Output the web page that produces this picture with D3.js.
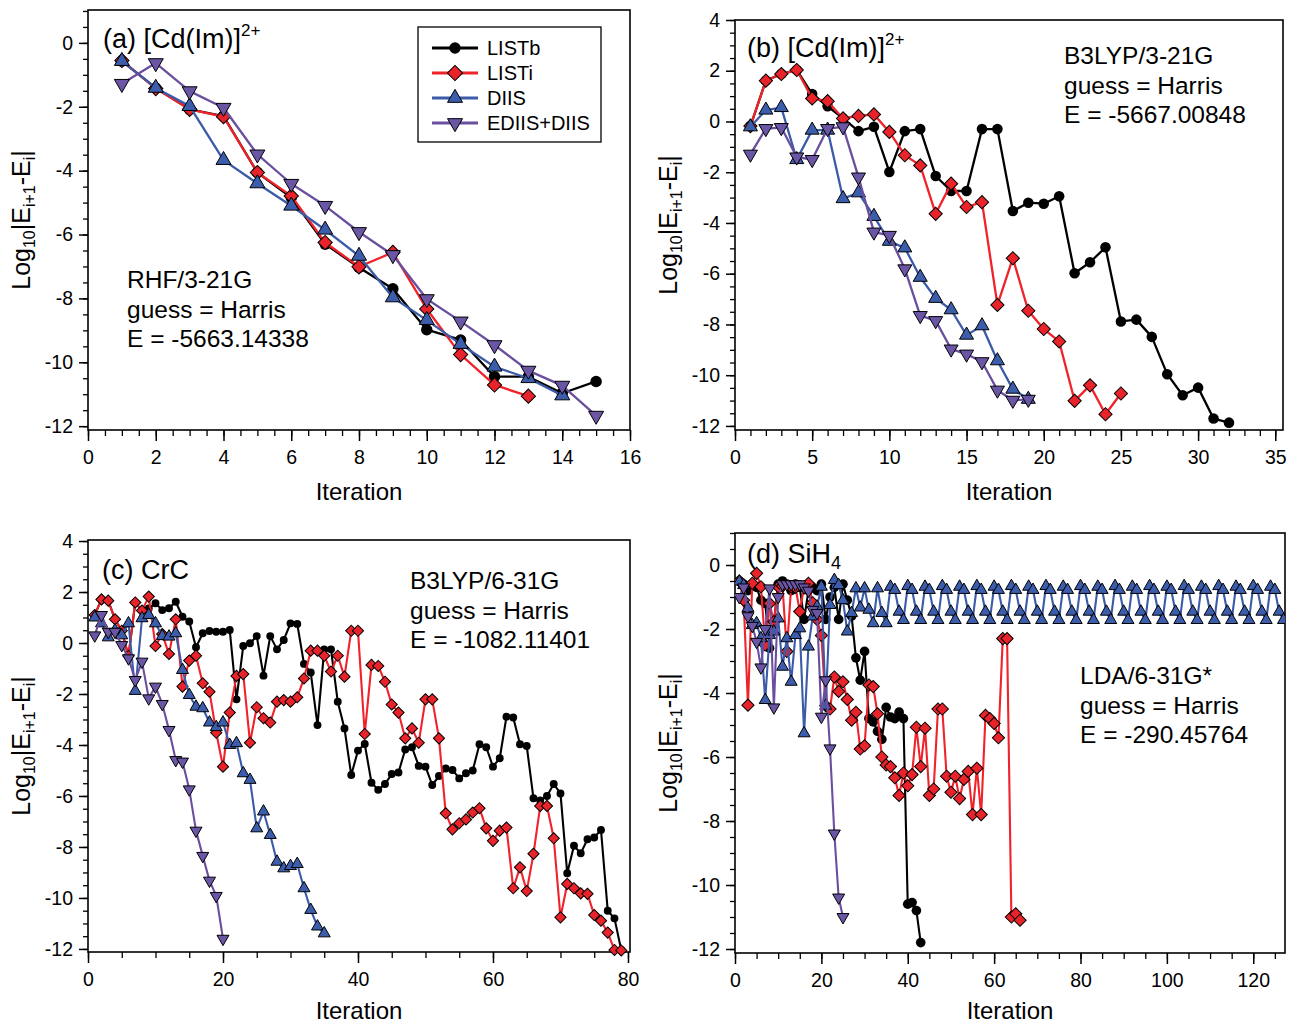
<!DOCTYPE html>
<html><head><meta charset="utf-8">
<script src="https://cdn.jsdelivr.net/npm/d3@7"></script>
<style>
body{margin:0;background:#fff}
svg{display:block}
text{font-family:"Liberation Sans",Arial,Helvetica,sans-serif;fill:#000}
</style>
</head><body>
<svg id="chart" width="1289" height="1025"></svg>
<script>
// ---------------- DATA (iteration = index + 1) ----------------
const seriesNames = ["LISTb", "LISTi", "DIIS", "EDIIS+DIIS"];

// (a) [Cd(Im)]2+  RHF/3-21G
const a_LISTb = [-0.57,-1.41,-2.08,-2.29,-4.06,-4.84,-6.30,-7.03,-7.70,-8.98,-9.30,-10.45,-10.45,-10.97,-10.60];
const a_LISTi = [-0.55,-1.43,-2.08,-2.31,-4.06,-4.79,-6.25,-7.01,-6.56,-8.33,-9.76,-10.71,-11.06];
const a_DIIS  = [-0.57,-1.41,-1.98,-3.67,-4.40,-5.10,-5.85,-6.67,-7.97,-8.68,-9.43,-10.14,-10.50,-11.04];
const a_EDIIS = [-1.28,-0.63,-1.51,-2.03,-3.49,-4.41,-5.10,-5.92,-6.64,-8.02,-8.72,-9.46,-10.26,-10.73,-11.67];

// (b) [Cd(Im)]2+  B3LYP/3-21G
const b_LISTb = [-0.18,1.61,1.87,2.03,1.08,0.60,0.12,-0.38,-0.21,-1.99,-0.38,-0.30,-2.15,-2.74,-2.74,-0.30,-0.30,-3.53,-3.20,-3.24,-2.95,-5.98,-5.55,-4.96,-7.88,-7.81,-8.49,-9.96,-10.79,-10.49,-11.71,-11.87];
const b_LISTi = [-0.18,1.61,1.87,2.03,0.91,0.80,0.12,0.22,0.28,-0.41,-1.33,-1.73,-3.64,-2.45,-3.37,-3.18,-7.23,-5.39,-7.46,-8.18,-8.67,-11.01,-10.40,-11.54,-10.72];
const b_DIIS  = [-0.21,0.45,0.55,-1.50,-0.34,-0.34,-3.04,-2.81,-3.74,-4.72,-4.98,-6.14,-6.97,-7.42,-8.42,-8.05,-9.43,-10.55,-10.95];
const b_EDIIS = [-1.29,-0.28,-0.24,-1.40,-1.50,-0.28,-0.21,-2.19,-4.36,-4.49,-5.81,-7.65,-7.85,-8.97,-9.17,-9.47,-10.59,-10.99,-10.95];

// (c) CrC  B3LYP/6-31G
const c_LISTb = [1.10,1.71,1.66,0.93,0.48,-0.51,1.59,1.27,1.35,1.56,
  1.29,1.36,1.62,1.03,0.84,-0.17,0.38,0.47,0.44,0.44,
  0.51,-2.21,-0.12,-0.01,0.27,-1.28,0.27,-0.25,0.12,0.77,
  0.75,-0.82,-1.16,-3.22,-0.25,-0.25,-2.30,-3.35,-5.18,-4.22,
  -3.96,-5.48,-5.76,-5.53,-5.14,-5.08,-4.18,-4.09,-4.82,-4.85,
  -5.57,-5.22,-4.92,-4.98,-5.31,-5.11,-5.00,-3.97,-4.09,-4.85,
  -4.52,-2.89,-2.92,-3.97,-4.04,-6.09,-6.18,-6.00,-5.53,-5.90,
  -9.03,-7.95,-8.25,-7.70,-7.63,-7.33,-10.50,-10.80,-12.04];
const c_LISTi = [1.10,1.71,1.66,0.93,0.48,-0.51,1.59,1.27,1.82,-0.12,
  0.35,-0.43,0.93,-1.71,-0.69,-0.50,-1.58,-1.91,-3.52,-4.85,
  -2.73,-1.29,-1.22,-3.91,-2.52,-2.95,-3.12,-2.30,-2.24,-2.30,
  -2.13,-1.39,-0.30,-0.30,-0.50,-1.12,-0.50,-1.32,0.48,0.48,
  -3.57,-0.86,-0.90,-1.52,-2.41,-2.73,-3.74,-3.35,-3.91,-2.21,
  -2.21,-3.74,-6.68,-7.31,-7.07,-6.92,-6.65,-6.48,-7.27,-7.76,
  -7.36,-7.24,-9.62,-8.80,-9.73,-8.27,-6.39,-6.39,-7.66,-10.76,
  -9.45,-9.62,-9.82,-9.84,-10.67,-10.89,-11.36,-12.04,-12.06];
const c_DIIS  = [1.00,0.77,0.22,0.50,0.30,0.77,-1.88,0.97,1.10,0.77,
  0.27,0.25,0.38,-1.06,-2.04,-2.50,-2.56,-3.12,-3.30,-3.12,
  -4.00,-3.93,-5.11,-5.37,-7.27,-6.61,-7.53,-8.58,-8.84,-8.75,
  -8.67,-9.62,-10.47,-11.12,-11.39];
const c_EDIIS = [0.30,1.10,0.44,0.44,-0.08,-0.60,-1.45,-0.73,-2.17,-1.71,
  -2.39,-3.41,-4.59,-4.65,-5.74,-7.36,-8.35,-9.32,-9.92,-11.60];

// (d) SiH4  LDA/6-31G*
const d_LISTb = [-0.5,-0.6,-0.8,-0.6,-0.7,-1.1,-1.2,-2.6,-1.8,-0.6,
  -0.5,-0.6,-0.8,-0.6,-0.7,-1.7,-0.8,-0.7,-0.8,-0.6,
  -1.7,-1.0,-0.7,-1.7,-0.6,-1.1,-1.6,-2.9,-3.6,-2.7,
  -4.8,-4.9,-5.2,-5.45,-4.45,-4.75,-4.8,-4.6,-4.8,-10.6,
  -10.55,-10.8,-11.8];
const d_LISTi = [-0.5,-1.1,-4.38,-0.57,-0.26,-0.68,-2.5,-1.2,-1.77,-0.68,
  -0.66,-2.7,-0.68,-0.7,-1.45,-0.68,-0.57,-1.18,-1.7,-2.2,
  -4.4,-4.5,-3.5,-3.95,-3.65,-4.2,-4.85,-4.6,-5.75,-5.65,
  -3.75,-3.8,-4.65,-6.0,-6.25,-6.3,-6.65,-7.2,-6.5,-6.9,
  -6.55,-5.07,-6.3,-5.1,-7.2,-7.0,-4.5,-4.5,-6.6,-7.1,
  -6.6,-7.3,-6.7,-6.45,-7.8,-6.35,-7.8,-4.7,-4.8,-4.95,
  -5.4,-2.3,-2.3,-11.0,-10.9,-11.1];
const d_DIIS  = [-0.52,-0.63,-1.35,-1.88,-1.82,-2.29,-4.22,-2.19,-2.08,-1.67,
  -3.18,-2.29,-3.65,-2.19,-1.98,-5.26,-2.55,-1.61,-1.30,-0.68,
  -4.40,-1.25,-0.47,-0.63,-1.10,-2.08,-1.50,-0.73,-1.33,-0.73,
  -1.40,-1.82,-0.73,-1.50,-1.82,-0.68,-0.78,-1.46,-1.72,-0.66,
  -0.78,-1.46,-1.72,-0.68,-0.78,-1.46,-1.72,-0.66,-0.78,-1.46,
  -1.72,-0.68,-0.78,-1.46,-1.72,-0.66,-0.78,-1.46,-1.72,-0.68,
  -0.78,-1.46,-1.72,-0.66,-0.78,-1.46,-1.72,-0.68,-0.78,-1.46,
  -1.72,-0.66,-0.78,-1.46,-1.72,-0.68,-0.78,-1.46,-1.72,-0.66,
  -0.78,-1.46,-1.72,-0.68,-0.78,-1.46,-1.72,-0.66,-0.78,-1.46,
  -1.72,-0.68,-0.78,-1.46,-1.72,-0.66,-0.78,-1.46,-1.72,-0.68,
  -0.78,-1.46,-1.72,-0.66,-0.78,-1.46,-1.72,-0.68,-0.78,-1.46,
  -1.72,-0.66,-0.78,-1.46,-1.72,-0.68,-0.78,-1.46,-1.72,-0.66,
  -0.78,-1.46,-1.72,-0.68,-0.78,-1.46,-1.72];
const d_EDIIS = [-1.0,-0.7,-1.6,-1.9,-2.4,-3.2,-2.0,-0.73,-4.45,-1.0,
  -0.6,-0.6,-0.6,-0.6,-0.6,-0.7,-0.8,-1.4,-1.5,-4.74,
  -3.6,-5.73,-8.39,-10.39,-11.0];

// annotation texts
const a_notes = ["RHF/3-21G", "guess = Harris", "E = -5663.14338"];
const b_notes = ["B3LYP/3-21G", "guess = Harris", "E = -5667.00848"];
const c_notes = ["B3LYP/6-31G", "guess = Harris", "E = -1082.11401"];
const d_notes = ["LDA/6-31G*", "guess = Harris", "E = -290.45764"];

// tick values
const a_xTicks = [0,2,4,6,8,10,12,14,16];
const a_yTicks = [0,-2,-4,-6,-8,-10,-12];
const b_xTicks = [0,5,10,15,20,25,30,35];
const b_yTicks = [4,2,0,-2,-4,-6,-8,-10,-12];
const c_xTicks = [0,20,40,60,80];
const c_yTicks = [4,2,0,-2,-4,-6,-8,-10,-12];
const d_xTicks = [0,20,40,60,80,100,120];
const d_yTicks = [0,-2,-4,-6,-8,-10,-12];

// ---------------- STYLE ----------------
const lineColor = {"LISTb":"#000000","LISTi":"#f0222a","DIIS":"#3b5ba9","EDIIS+DIIS":"#6a4f9e"};
const fillColor = {"LISTb":"#000000","LISTi":"#e8232a","DIIS":"#3c5dab","EDIIS+DIIS":"#6b55a5"};
const shapeOf   = {"LISTb":"circle","LISTi":"diamond","DIIS":"up","EDIIS+DIIS":"down"};

const svg = d3.select("#chart");

function markerPath(kind, s){
  if(kind==="circle") return d3.symbol(d3.symbolCircle, Math.PI*(s*0.44)*(s*0.44))();
  if(kind==="diamond") return d3.symbol(d3.symbolSquare, (s*0.72)*(s*0.72))();
  return d3.symbol(d3.symbolTriangle, s*s*Math.sqrt(3)/4)();
}
function markerRot(kind){
  if(kind==="diamond") return 45;
  if(kind==="down") return 180;
  return 0;
}

function drawPanel(cfg){
  const x = d3.scaleLinear().domain(cfg.xd).range([cfg.l, cfg.r]);
  const y = d3.scaleLinear().domain(cfg.yd).range([cfg.b, cfg.t]);
  const g = svg.append("g");
  const cid = "clip_" + cfg.id;
  svg.append("clipPath").attr("id", cid).append("rect")
    .attr("x", cfg.l).attr("y", cfg.t - 8).attr("width", cfg.r - cfg.l).attr("height", cfg.b - cfg.t + 16);

  const yMinor = d3.range(Math.ceil(cfg.yd[0]/cfg.yMinorStep)*cfg.yMinorStep, cfg.yd[1]+1e-9, cfg.yMinorStep);
  const xMinor = d3.range(0, cfg.xd[1]+1e-9, cfg.xMinorStep);
  g.append("g").attr("transform", `translate(${cfg.l},0)`)
    .call(d3.axisLeft(y).tickValues(yMinor).tickSize(5).tickFormat(""))
    .call(s => s.select(".domain").remove())
    .call(s => s.selectAll("line").attr("stroke-width", 1.3));
  g.append("g").attr("transform", `translate(0,${cfg.b})`)
    .call(d3.axisBottom(x).tickValues(xMinor).tickSize(6).tickFormat(""))
    .call(s => s.select(".domain").remove())
    .call(s => s.selectAll("line").attr("stroke-width", 1.3));
  g.append("g").attr("transform", `translate(${cfg.l},0)`)
    .call(d3.axisLeft(y).tickValues(cfg.yTicks).tickSize(9).tickPadding(6).tickFormat(d => String(d)))
    .call(s => s.select(".domain").remove())
    .call(s => s.selectAll("line").attr("stroke-width", 1.5))
    .call(s => s.selectAll("text").attr("font-size", 19.5).attr("fill", "#222")
      .style("font-family", '"Liberation Sans",Arial,sans-serif'));
  g.append("g").attr("transform", `translate(0,${cfg.b})`)
    .call(d3.axisBottom(x).tickValues(cfg.xTicks).tickSize(11).tickPadding(9).tickFormat(d => String(d)))
    .call(s => s.select(".domain").remove())
    .call(s => s.selectAll("line").attr("stroke-width", 1.5))
    .call(s => s.selectAll("text").attr("font-size", 19.5).attr("fill", "#222")
      .style("font-family", '"Liberation Sans",Arial,sans-serif'));

  g.append("rect").attr("x", cfg.l).attr("y", cfg.t)
    .attr("width", cfg.r - cfg.l).attr("height", cfg.b - cfg.t)
    .attr("fill", "none").attr("stroke", "#000").attr("stroke-width", 1.6);

  const plot = g.append("g").attr("clip-path", `url(#${cid})`);
  cfg.series.forEach((vals, k) => {
    const name = seriesNames[k];
    const pts = vals.map((v, i) => [i + 1, v]);
    plot.append("path").datum(pts)
      .attr("fill", "none").attr("stroke", lineColor[name])
      .attr("stroke-width", cfg.lw).attr("stroke-linejoin", "round")
      .attr("d", d3.line().x(d => x(d[0])).y(d => y(d[1])));
    const kind = shapeOf[name];
    const sz = cfg.ms[kind];
    plot.append("g").selectAll("path").data(pts).join("path")
      .attr("d", markerPath(kind, sz))
      .attr("transform", d => `translate(${x(d[0])},${y(d[1])}) rotate(${markerRot(kind)})`)
      .attr("fill", fillColor[name])
      .attr("stroke", kind === "circle" ? "none" : "#000")
      .attr("stroke-width", 1);
  });

  g.append("text").attr("x", (cfg.l + cfg.r) / 2).attr("y", cfg.xTitleY)
    .attr("text-anchor", "middle").attr("font-size", 24).text("Iteration");
  const yt = g.append("text")
    .attr("transform", `translate(${cfg.yTitleX},${(cfg.t + cfg.b) / 2}) rotate(-90)`)
    .attr("text-anchor", "middle").attr("font-size", 25);
  yt.append("tspan").text("Log");
  yt.append("tspan").attr("font-size", 16).attr("dy", 5).text("10");
  yt.append("tspan").attr("dy", -5).text("|E");
  yt.append("tspan").attr("font-size", 16).attr("dy", 5).text("i+1");
  yt.append("tspan").attr("dy", -5).text("-E");
  yt.append("tspan").attr("font-size", 16).attr("dy", 5).text("i");
  yt.append("tspan").attr("dy", -5).text("|");

  const pt = g.append("text").attr("x", cfg.titleX).attr("y", cfg.titleY).attr("font-size", 27);
  pt.append("tspan").text(cfg.title);
  if (cfg.sup) pt.append("tspan").attr("font-size", 17).attr("dy", -12).text(cfg.sup);
  if (cfg.sub) pt.append("tspan").attr("font-size", 18).attr("dy", 6).text(cfg.sub);

  cfg.notes.forEach((t, i) => {
    g.append("text").attr("x", cfg.noteX).attr("y", cfg.noteY + i * 29.5)
      .attr("font-size", 24.5).text(t);
  });
  return {x, y, g};
}

drawPanel({id:"a", l:88, r:630, t:10, b:430, xd:[0,16], yd:[-12.12,1.03],
  xTicks:a_xTicks, yTicks:a_yTicks, xMinorStep:0.5, yMinorStep:0.5,
  series:[a_LISTb,a_LISTi,a_DIIS,a_EDIIS], lw:2.3, ms:{circle:13,diamond:14,up:15,down:15},
  xTitleY:500, yTitleX:30, title:"(a) [Cd(Im)]", sup:"2+", titleX:103, titleY:48,
  notes:a_notes, noteX:127, noteY:288});

drawPanel({id:"b", l:735, r:1283, t:20, b:430, xd:[0,35.5], yd:[-12.16,4],
  xTicks:b_xTicks, yTicks:b_yTicks, xMinorStep:1, yMinorStep:0.5,
  series:[b_LISTb,b_LISTi,b_DIIS,b_EDIIS], lw:2.3, ms:{circle:12,diamond:13,up:14,down:14},
  xTitleY:500, yTitleX:677, title:"(b) [Cd(Im)]", sup:"2+", titleX:747, titleY:57,
  notes:b_notes, noteX:1064, noteY:64});

drawPanel({id:"c", l:88, r:630, t:540, b:952, xd:[0,80.3], yd:[-12.12,4.04],
  xTicks:c_xTicks, yTicks:c_yTicks, xMinorStep:5, yMinorStep:0.5,
  series:[c_LISTb,c_LISTi,c_DIIS,c_EDIIS], lw:2.1, ms:{circle:9,diamond:11,up:12,down:12},
  xTitleY:1019, yTitleX:30, title:"(c) CrC", titleX:102, titleY:579,
  notes:c_notes, noteX:410, noteY:589});

drawPanel({id:"d", l:735, r:1285, t:533, b:953, xd:[0,127.35], yd:[-12.125,1.0],
  xTicks:d_xTicks, yTicks:d_yTicks, xMinorStep:5, yMinorStep:0.5,
  series:[d_LISTb,d_LISTi,d_DIIS,d_EDIIS], lw:2.1, ms:{circle:11,diamond:12,up:12,down:12},
  xTitleY:1019, yTitleX:677, title:"(d) SiH", sub:"4", titleX:747, titleY:563,
  notes:d_notes, noteX:1080, noteY:684});

// legend in panel (a)
const leg = svg.append("g");
leg.append("rect").attr("x", 418).attr("y", 27).attr("width", 183).attr("height", 115)
  .attr("fill", "#fff").attr("stroke", "#000").attr("stroke-width", 1.3);
seriesNames.forEach((name, i) => {
  const yy = 48 + i * 25;
  leg.append("line").attr("x1", 432).attr("x2", 478).attr("y1", yy).attr("y2", yy)
    .attr("stroke", lineColor[name]).attr("stroke-width", 2.8);
  const kind = shapeOf[name];
  leg.append("path").attr("d", markerPath(kind, kind === "circle" ? 13 : 15))
    .attr("transform", `translate(455,${yy}) rotate(${markerRot(kind)})`)
    .attr("fill", fillColor[name]).attr("stroke", kind === "circle" ? "none" : "#000").attr("stroke-width", 1);
  leg.append("text").attr("x", 487).attr("y", yy + 7).attr("font-size", 20).text(name);
});
</script>
</body></html>
